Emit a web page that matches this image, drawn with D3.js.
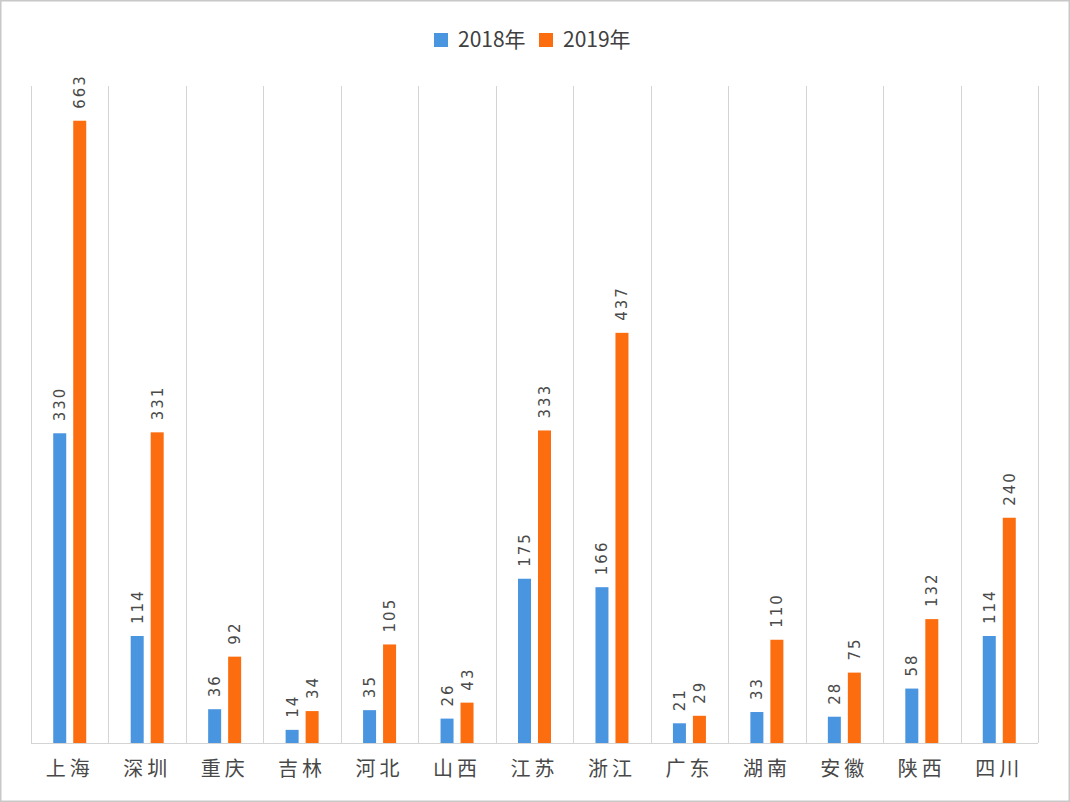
<!DOCTYPE html>
<html>
<head>
<meta charset="utf-8">
<script src="https://cdn.jsdelivr.net/npm/d3@7"></script>
<style>
  body { margin: 0; background: #fff; }
  svg { display: block; }
</style>
</head>
<body>
<svg></svg>
<script>
// provinces and values per year
var provinces = ["上海", "深圳", "重庆", "吉林", "河北", "山西", "江苏", "浙江", "广东", "湖南", "安徽", "陕西", "四川"];
var years = ["2018年", "2019年"];
var values2018 = [330, 114, 36, 14, 35, 26, 175, 166, 21, 33, 28, 58, 114];
var values2019 = [663, 331, 92, 34, 105, 43, 333, 437, 29, 110, 75, 132, 240];
var colors = ["#4a95e0", "#fc6d10"];

var W = 1070, H = 802;
var margin = {top: 86, right: 32, bottom: 59, left: 31},
    width = W - margin.left - margin.right,
    height = H - margin.top - margin.bottom;

var svg = d3.select("svg").attr("width", W).attr("height", H);

// outer frame
svg.append("rect")
    .attr("x", 0.75).attr("y", 0.75)
    .attr("width", W - 1.5).attr("height", H - 1.5)
    .style("fill", "#fff").style("stroke", "#c8c8c8").style("stroke-width", 1.5);

var g = svg.append("g")
    .attr("transform", "translate(" + margin.left + "," + margin.top + ")");

var x = d3.scaleBand().domain(provinces).range([0, width]);
var y = d3.scaleLinear().domain([0, 700]).range([height, 0]);

var series = [values2018, values2019];
var offs = [-10, 10], bw = 13;

// category separators
var edges = provinces.map(function(p) { return x(p); }).concat([width]);
g.selectAll("line.sep")
    .data(edges)
    .enter().append("line")
    .attr("class", "sep")
    .attr("x1", function(d) { return Math.round(d) + 0.5; })
    .attr("x2", function(d) { return Math.round(d) + 0.5; })
    .attr("y1", 0).attr("y2", height)
    .style("stroke", "#d4d4d4");

// baseline
g.append("line")
    .attr("x1", 0).attr("x2", width)
    .attr("y1", height + 0.5).attr("y2", height + 0.5)
    .style("stroke", "#d4d4d4");

series.forEach(function(vals, si) {
  var cx = function(i) { return x(provinces[i]) + x.bandwidth() / 2 + offs[si]; };

  g.selectAll("rect.s" + si)
      .data(vals)
      .enter().append("rect")
      .attr("class", "s" + si)
      .attr("x", function(d, i) { return cx(i) - bw / 2; })
      .attr("y", function(d) { return y(d); })
      .attr("width", bw)
      .attr("height", function(d) { return height - y(d); })
      .style("fill", colors[si]);

  // value labels, rotated
  g.selectAll("text.v" + si)
      .data(vals)
      .enter().append("text")
      .attr("class", "v" + si)
      .attr("transform", function(d, i) {
        return "translate(" + (cx(i) + 5.5) + "," + (y(d) - 12) + ") rotate(-90)";
      })
      .style("font-family", "'DejaVu Sans', sans-serif")
      .style("font-size", "15px")
      .style("letter-spacing", "2px")
      .style("fill", "#4a4a4a")
      .text(function(d) { return d; });
});

// category labels
var xAxis = g.append("g")
    .attr("transform", "translate(0," + height + ")")
    .call(d3.axisBottom(x).tickSize(0).tickPadding(19));
xAxis.select(".domain").remove();
xAxis.selectAll("text")
    .style("font-family", "'Noto Sans CJK SC', sans-serif")
    .style("font-size", "20px")
    .style("letter-spacing", "4px")
    .style("fill", "#484848");

// legend
var legend = svg.append("g").attr("transform", "translate(434,40)");
var lx = [0, 105];
years.forEach(function(yr, i) {
  legend.append("rect")
      .attr("x", lx[i]).attr("y", -7)
      .attr("width", 14).attr("height", 14)
      .style("fill", colors[i]);
  legend.append("text")
      .attr("x", lx[i] + 24).attr("y", 0)
      .attr("dy", "0.35em")
      .style("font-family", "'Noto Sans CJK SC', sans-serif")
      .style("font-size", "21px")
      .style("fill", "#404040")
      .text(yr);
});
</script>
</body>
</html>
